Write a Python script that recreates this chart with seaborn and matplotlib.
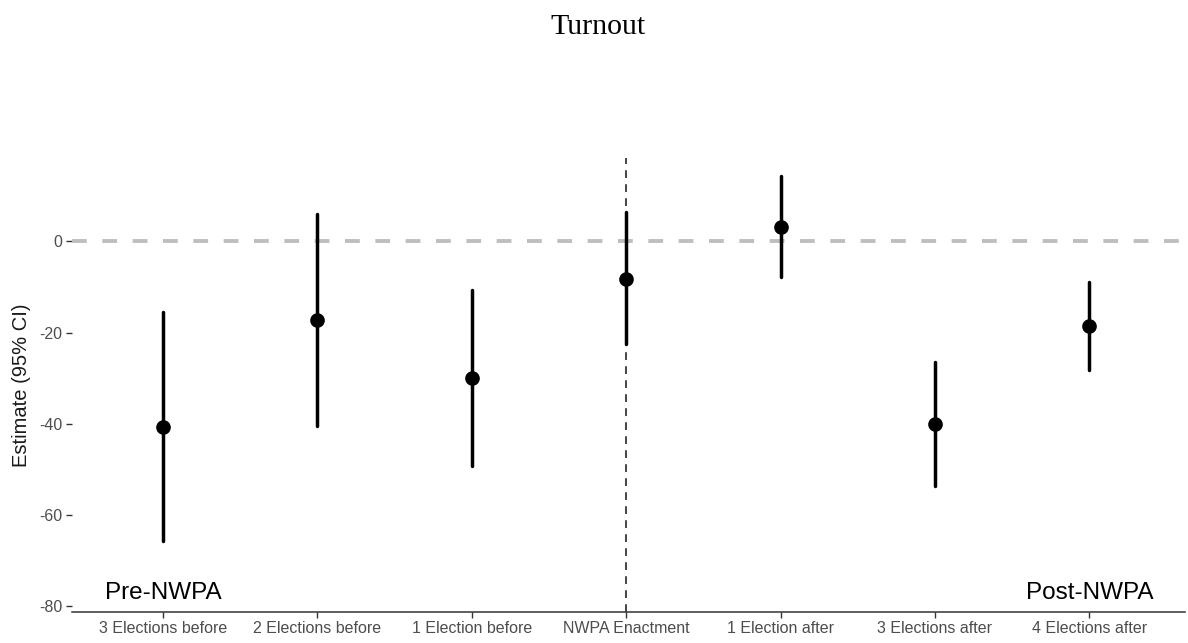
import numpy as np
import pandas as pd
import matplotlib
matplotlib.use("Agg")
import matplotlib.pyplot as plt
import seaborn as sns

# Event-study estimates of turnout relative to NWPA enactment
periods = ["3 Elections before", "2 Elections before", "1 Election before",
           "NWPA Enactment", "1 Election after", "3 Elections after",
           "4 Elections after"]
estimate = [-40.6, -17.2, -30.0, -8.2, 3.2, -40.0, -18.5]
ci_low = [-65.8, -40.4, -49.2, -22.5, -7.9, -53.6, -28.1]
ci_high = [-15.4, 6.1, -10.7, 6.4, 14.3, -26.5, -8.9]
y_ticks = [0, -20, -40, -60, -80]

# Long table: each period holds its lower bound, estimate and upper bound,
# so the median is the estimate and the 0-100 percentile range is the CI.
df = pd.DataFrame({
    "period": np.repeat(periods, 3),
    "value": np.ravel(np.column_stack([ci_low, estimate, ci_high])),
})

sns.set_theme(style="white")
plt.rcParams["font.family"] = ["Liberation Sans", "DejaVu Sans"]

fig = plt.figure(figsize=(11.88, 6.43), dpi=100)
ax = fig.add_axes([0.0606, 0.0487, 0.9369, 0.7056])

# reference lines
ax.axhline(0, color="#BEBEBE", linewidth=2.8, dashes=(3.8, 4.0), zorder=1)
ax.axvline(3, color="#444444", linewidth=1.4, dashes=(4.0, 3.2), zorder=1)

sns.pointplot(data=df, x="period", y="value", order=periods,
              estimator="median", errorbar=("pi", 100),
              linestyle="none", color="black", markers="o",
              markersize=8.5, err_kws={"linewidth": 2.5},
              ax=ax, zorder=3)

ax.set_xlim(-0.59, 6.62)
ax.set_ylim(-81.2, 18.3)
ax.set_yticks(y_ticks)
ax.set_yticklabels([str(v) for v in y_ticks])

ax.set_xlabel("")
ax.set_ylabel("Estimate (95% CI)", fontsize=14.5, color="#1a1a1a", labelpad=6)

for side in ["top", "right", "left"]:
    ax.spines[side].set_visible(False)
ax.spines["bottom"].set_color("#333333")
ax.spines["bottom"].set_linewidth(1.1)

ax.tick_params(axis="both", which="both", length=4, width=1.0,
               color="#333333", labelcolor="#4D4D4D", labelsize=11.5,
               bottom=True, left=True, pad=3)

# period annotations
ax.text(0, -77, "Pre-NWPA", ha="center", va="center", fontsize=17.5,
        color="black")
ax.text(6, -77, "Post-NWPA", ha="center", va="center", fontsize=17.5,
        color="black")

fig.text(0.503, 0.958, "Turnout", ha="center", va="center", fontsize=21.5,
         family=["Liberation Serif", "DejaVu Serif"], color="black")

fig.savefig("out.png", dpi=100, facecolor="white")
